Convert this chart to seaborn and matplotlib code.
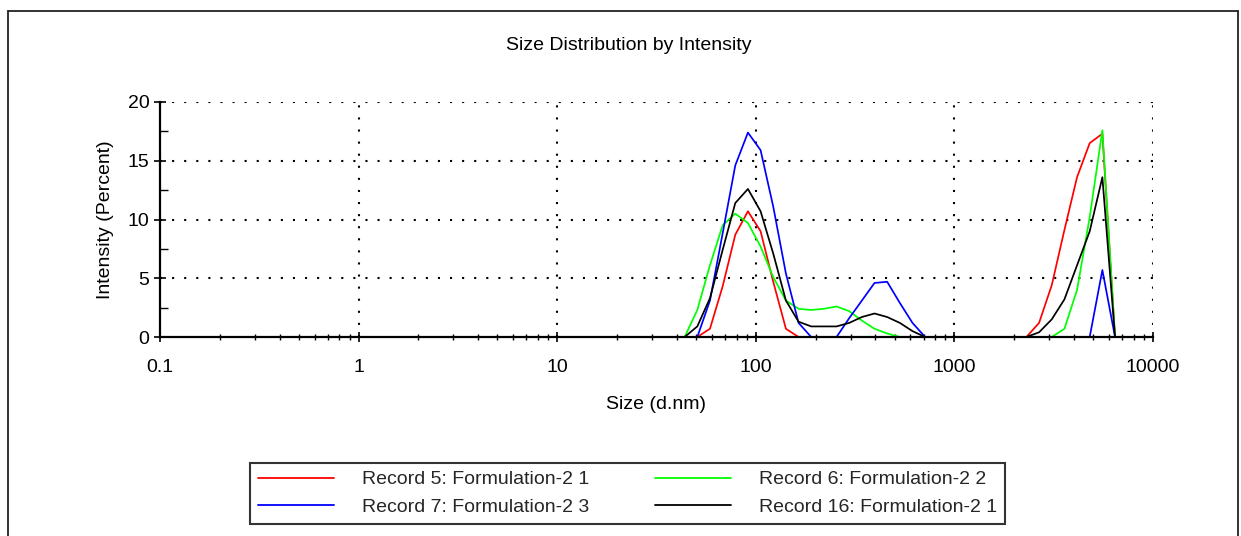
import numpy as np
import pandas as pd
import matplotlib
matplotlib.use("Agg")
import matplotlib.pyplot as plt
from matplotlib.lines import Line2D
from matplotlib.ticker import FixedLocator, FixedFormatter, LogLocator, NullFormatter, MultipleLocator
import seaborn as sns

# ---------------- data ----------------
sizes = [0.4, 0.4632, 0.5365, 0.6213, 0.7195, 0.8332, 0.9649, 1.117, 1.294, 1.499,
         1.736, 2.01, 2.328, 2.696, 3.122, 3.615, 4.187, 4.849, 5.615, 6.503,
         7.531, 8.721, 10.1, 11.7, 13.54, 15.69, 18.17, 21.04, 24.36, 28.21,
         32.67, 37.84, 43.82, 50.75, 58.77, 68.06, 78.82, 91.28, 105.7, 122.4,
         141.8, 164.2, 190.1, 220.2, 255.0, 295.3, 342.0, 396.1, 458.7, 531.2,
         615.1, 712.4, 825.0, 955.4, 1106, 1281, 1484, 1718, 1990, 2305,
         2669, 3091, 3580, 4145, 4801, 5560, 6439, 7456, 8635, 10000]

record5 = [0]*34 + [0.7, 4.3, 8.7, 10.7, 9.0, 4.7, 0.7, 0.0, 0, 0,
                    0, 0, 0, 0, 0, 0, 0, 0, 0, 0,
                    0, 0, 0, 0, 0, 0, 1.2, 4.4, 9.1, 13.6,
                    16.5, 17.3, 0, 0, 0, 0]
record6 = [0]*33 + [2.3, 6.1, 9.5, 10.5, 9.7, 7.7, 5.1, 3.1, 2.4, 2.3,
                    2.4, 2.6, 2.2, 1.4, 0.7, 0.3, 0, 0, 0, 0,
                    0, 0, 0, 0, 0, 0, 0, 0, 0, 0.7,
                    4.0, 10.2, 17.6, 0, 0, 0, 0]
record7 = [0]*34 + [3.1, 8.8, 14.6, 17.4, 15.9, 11.1, 5.4, 1.2, 0, 0,
                    0, 1.6, 3.1, 4.6, 4.7, 2.9, 1.2, 0, 0, 0,
                    0, 0, 0, 0, 0, 0, 0, 0, 0, 0,
                    0, 5.7, 0, 0, 0, 0]
record16 = [0]*33 + [0.9, 3.3, 7.4, 11.4, 12.6, 10.7, 7.1, 3.1, 1.3, 0.9,
                     0.9, 0.9, 1.2, 1.7, 2.0, 1.7, 1.2, 0.5, 0, 0,
                     0, 0, 0, 0, 0, 0, 0, 0.4, 1.5, 3.2,
                     6.1, 9.0, 13.6, 0, 0, 0, 0]

series_names = ["Record 5: Formulation-2 1", "Record 6: Formulation-2 2",
                "Record 7: Formulation-2 3", "Record 16: Formulation-2 1"]
series_values = [record5, record6, record7, record16]
series_colors = ["#ff0000", "#00ff00", "#0000ff", "#000000"]

x_ticks = [0.1, 1, 10, 100, 1000, 10000]
x_tick_labels = ["0.1", "1", "10", "100", "1000", "10000"]
y_ticks = [0, 5, 10, 15, 20]
y_tick_labels = ["0", "5", "10", "15", "20"]

title = "Size Distribution by Intensity"
x_label = "Size (d.nm)"
y_label = "Intensity (Percent)"

# ---------------- build long-form table ----------------
frames = []
for name, vals in zip(series_names, series_values):
    frames.append(pd.DataFrame({"size": sizes, "intensity": vals, "record": name}))
df = pd.concat(frames, ignore_index=True)

# ---------------- style ----------------
sns.set_theme(style="white")
plt.rcParams["font.family"] = ["Liberation Sans", "DejaVu Sans"]
plt.rcParams["font.size"] = 14

W, H = 1241, 536
fig = plt.figure(figsize=(W / 100, H / 100), dpi=100)
fig.patch.set_facecolor("white")

L, R, T, B = 160, 1153, 102, 337
ax = fig.add_axes([L / W, 1 - B / H, (R - L) / W, (B - T) / H])
ax.set_facecolor("white")

sns.lineplot(data=df, x="size", y="intensity", hue="record",
             hue_order=series_names, palette=dict(zip(series_names, series_colors)),
             estimator=None, sort=False, linewidth=1.25, ax=ax, legend=False)

ax.set_xscale("log")
ax.set_xlim(x_ticks[0], x_ticks[-1])
ax.set_ylim(y_ticks[0], y_ticks[-1])

ax.xaxis.set_major_locator(FixedLocator(x_ticks))
ax.xaxis.set_major_formatter(FixedFormatter(x_tick_labels))
ax.xaxis.set_minor_locator(LogLocator(base=10, subs=np.arange(2, 10), numticks=20))
ax.xaxis.set_minor_formatter(NullFormatter())
ax.yaxis.set_major_locator(FixedLocator(y_ticks))
ax.yaxis.set_major_formatter(FixedFormatter(y_tick_labels))
ax.yaxis.set_minor_locator(MultipleLocator(2.5))

ax.tick_params(axis="x", which="major", direction="inout", length=7, width=1.2,
               colors="black", labelsize=14, pad=12, bottom=True, top=False)
ax.tick_params(axis="x", which="minor", direction="inout", length=5, width=1.0,
               colors="black", bottom=True, top=False)
ax.tick_params(axis="y", which="major", direction="inout", length=9, width=1.2,
               colors="black", labelsize=14, pad=3, left=True, right=False)
ax.tick_params(axis="y", which="minor", direction="in", length=6, width=1.0,
               colors="black", left=True, right=False)

for side in ["top", "right"]:
    ax.spines[side].set_visible(False)
for side in ["left", "bottom"]:
    ax.spines[side].set_visible(True)
    ax.spines[side].set_color("black")
    ax.spines[side].set_linewidth(1.6)

# dotted grid
grid_style = dict(color="black", linewidth=1.5, linestyle=(0, (1, 4.8)), zorder=0.5)
for yv in y_ticks[1:]:
    ax.axhline(yv, **grid_style)
for xv in x_ticks[1:]:
    ax.axvline(xv, **grid_style)

ax.set_xlabel(x_label, fontsize=14, color="black")
ax.set_ylabel(y_label, fontsize=14, color="black")
ax.xaxis.set_label_coords(0.5, (B - 396) / (B - T))
ax.yaxis.set_label_coords((114 - L) / (R - L), 0.5)

fig.text(629 / W, 1 - 45 / H, title, ha="center", va="center", fontsize=14, color="black")

# legend (row-major order: R5, R6 / R7, R16)
handles = [Line2D([], [], color=c, linewidth=1.3) for c in series_colors]
order = [0, 2, 1, 3]
leg = fig.legend([handles[i] for i in order], [series_names[i] for i in order],
                 ncol=2, loc="upper left", bbox_to_anchor=(250 / W, 1 - 463 / H),
                 frameon=True, fancybox=False, shadow=False, fontsize=14,
                 handlelength=3.9, handletextpad=1.45, columnspacing=3.4,
                 borderpad=0.4, labelspacing=0.5, borderaxespad=0)
leg.get_frame().set_edgecolor("black")
leg.get_frame().set_linewidth(1.5)

# outer frame of the report
frame_kw = dict(color="#222222", linewidth=1.3, transform=fig.transFigure, clip_on=False)
fig.add_artist(Line2D([8 / W, 8 / W], [0, 1 - 11 / H], **frame_kw))
fig.add_artist(Line2D([8 / W, 1238 / W], [1 - 11 / H, 1 - 11 / H], **frame_kw))
fig.add_artist(Line2D([1238 / W, 1238 / W], [0, 1 - 11 / H], **frame_kw))

fig.savefig("out.png", dpi=100)
